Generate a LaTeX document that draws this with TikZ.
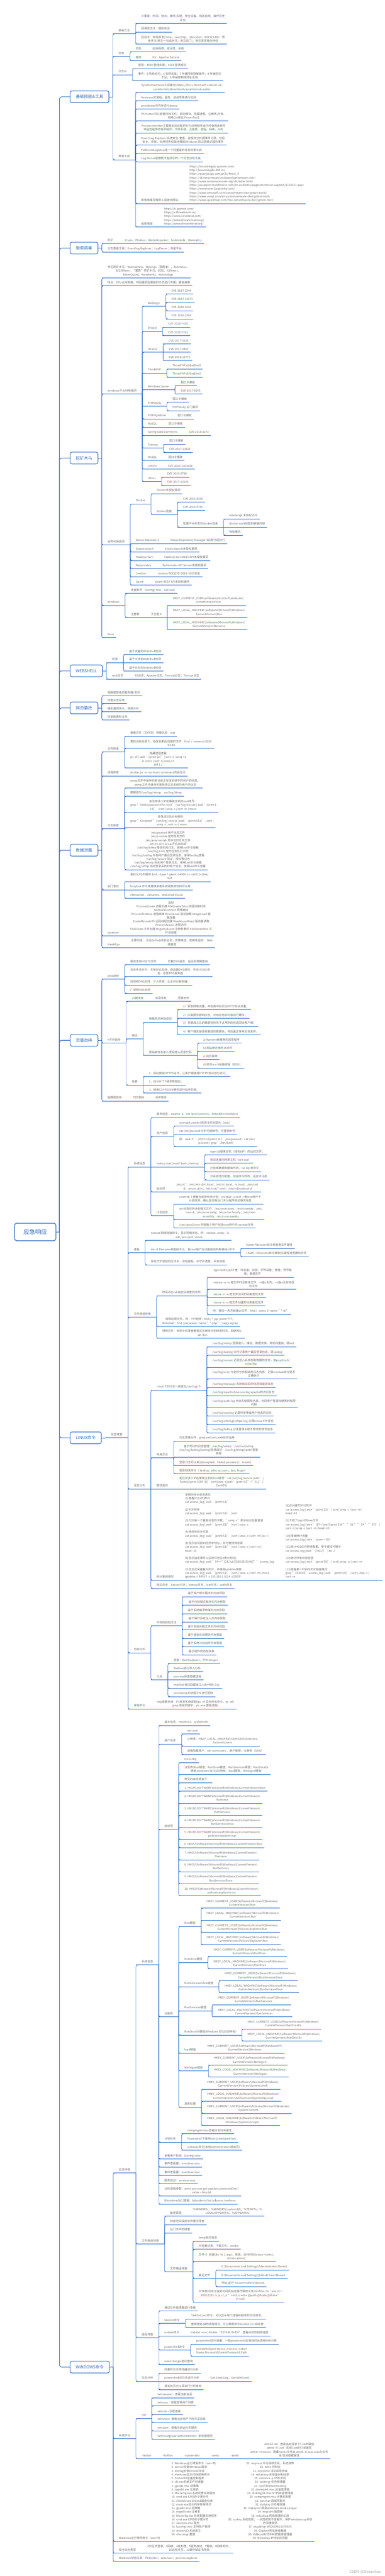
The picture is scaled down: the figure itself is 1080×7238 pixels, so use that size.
\documentclass[tikz,border=0pt]{standalone}
\usepackage{fontspec}
\setmainfont{Noto Sans CJK SC}
\usetikzlibrary{calc}
\definecolor{lc}{RGB}{46,108,198}
\definecolor{tx}{RGB}{108,108,108}
\definecolor{tc}{RGB}{42,104,192}
\definecolor{wmc}{RGB}{165,165,165}
\newcommand\bsl{\textbackslash}
\newcommand\nfs{\fontsize{8}{10.5}\selectfont}
\newcommand\RegU{HKEY\_CURRENT\_USER\bsl Software\bsl Microsoft\bsl Windows\bsl}
\newcommand\RegL{HKEY\_LOCAL\_MACHINE\bsl Software\bsl Microsoft\bsl Windows\bsl}
\newcommand\RegA{HKLM\bsl SOFTWARE\bsl Microsoft\bsl Windows\bsl CurrentVersion\bsl}
\newcommand\RegB{HKCU\bsl Software\bsl Microsoft\bsl Windows\bsl CurrentVersion\bsl}
\newcommand\acl{cat access\_log | awk '\{print \$1\}'}
\tikzset{
  nd/.style={anchor=south west, inner xsep=0pt, inner ysep=3.2pt, outer sep=0pt, font=\nfs, text=tx, align=center},
  ul/.style={draw=lc, line width=1.3pt},
  cn/.style={draw=lc, line width=1pt, rounded corners=5pt},
  tl/.style={draw=lc, line width=1.6pt, rounded corners=6pt},
  topic/.style={draw=lc, line width=1.6pt, rounded corners=5pt, fill=white, text=tc, font=\fontsize{11.5}{13}\selectfont, inner xsep=16pt, inner ysep=0pt, minimum height=33pt, anchor=west, outer sep=0pt},
  rootn/.style={draw=lc, line width=1.8pt, rounded corners=6pt, fill=white, text=tc, font=\fontsize{16.5}{18}\selectfont, minimum width=116pt, minimum height=49pt, outer sep=0pt},
}
\newcommand\mk[6]{%
  \path (#4e) ++(16pt,0) coordinate (#3t);
  \coordinate (#3y) at (0,#5);
  \node[nd,#2] (#3) at (#3t |- #3y) {#6\strut};
  \coordinate (#3s) at (#4e |- #3y);
  \coordinate (#3e) at ([xshift=#1]#3.south east);
  \draw[cn] (#4e) |- ([xshift=6pt]#3s);
  \draw[ul] (#3s) -- (#3e);
}
\newcommand\mkc[5]{%
  \path (#4e) ++(16pt,0) coordinate (#3t);
  \node[nd,#2] (#3) at (#3t) {#5\strut};
  \coordinate (#3s) at (#4e);
  \coordinate (#3e) at ([xshift=#1]#3.south east);
  \draw[ul] (#3s) -- (#3e);
}
\newcommand\nL[5][]{\mk{6pt}{#1}{#2}{#3}{#4}{#5}}
\newcommand\nB[5][]{\mk{16pt}{#1}{#2}{#3}{#4}{#5}}
\newcommand\cL[4][]{\mkc{6pt}{#1}{#2}{#3}{#4}}
\newcommand\cB[4][]{\mkc{16pt}{#1}{#2}{#3}{#4}}
\newcommand\tpc[3]{%
  \node[topic] (#1) at (197,#2) {#3};
  \coordinate (#1e) at ([xshift=11pt]#1.east);
  \draw[tl] (Rj) |- (#1.west);
  \draw[cn] (#1.east) -- (#1e);
}
\begin{document}
\begin{tikzpicture}[x=1pt,y=-1pt]
\fill[white] (0,0) rectangle (1080,7238);
\useasboundingbox (0,0) rectangle (1080,7238);
% root
\node[rootn] (R) at (99,3461.5) {应急响应};
\coordinate (Rj) at (167,3461.5);
\draw[tl] (R.east) -- (Rj);

% ===== 1 基础技能&工具
\tpc{T1}{272}{基础技能\&工具}
\nB{a1}{T1}{95}{常用方法}
\nL{a11}{a1}{66}{三要素：时间；地点；事件(系统、安全设备、相关应用、操作历史\\日志)}
\nL{a12}{a1}{90}{回溯攻击法：模拟攻击}
\nL{a13}{a1}{124}{经验法：常用目录(/tmp；/var/tmp；/dev/shm；RECYCLER)；惯\\用手法(常见一句话木马；常见后门)；常见恶意程序特征}
\nB{a2}{T1}{159}{日志}
\nB{a21}{a2}{146}{主机}
\cL{a211}{a21}{应用程序；安全性；系统}
\nB{a22}{a2}{170}{其他}
\cL{a221}{a22}{IIS；Apache;Tomcat}
\nB{a3}{T1}{210}{日志id}
\nL{a31}{a3}{193}{登录：4625 登陆失败；4624 登录成功}
\nL{a32}{a3}{227}{事件：5 拒绝访问；6 句柄无效；7 存储控制块被破坏；8 存储空间\\不足；9 存储控制块地址无效}
\nB{a4}{T1}{449}{常用工具}
\nL{a41}{a4}{260}{SysinternalsSuite工具集合(https://docs.microsoft.com/en-us/\\sysinternals/downloads/sysinternals-suite)}
\nL{a42}{a4}{283}{Autoruns对进程、服务、启动项等进行检测}
\nL{a43}{a4}{306}{procdump对内存进行dump}
\nL{a44}{a4}{340}{PCHunter可以查看内核文件、驱动模块、隐藏进程、注册表,内核、\\网络(火绒剑/PowerTool)}
\nL{a45}{a4}{374}{Process monitor主要是监控进程的行为应用程序运行时使用此软件\\来监控程序的各种操作。文件系统、注册表、进程、网络、分析}
\nL{a46}{a4}{408}{Event Log Explorer-系统安全-查看，监视和分析跟事件记录，包括\\安全，系统，应用程序和其他微软Windows 的记录被记载的事件}
\nL{a47}{a4}{431}{FullEventLogView是一个轻量级的日志检索工具}
\nL{a48}{a4}{455}{Log Parser是微软工程师写的一个日志分析工具}
\nB{a49}{a4}{572}{勒索病毒及解密工具查询网站}
\cL[align=left]{a491}{a49}{https://lesuobingdu.qianxin.com/\\http://lesuobingdu.360.cn/\\https://quanjia.qq.com/pr/ls/\#navi\_0\\https://id-ransomware.malwarehunterteam.com/\\https://www.nomoreransom.org/zh/index.html\\https://esupport.trendmicro.com/en-us/home/pages/technical-support/1114221.aspx\\https://noransom.kaspersky.com/\\https://www.emsisoft.com/ransomware-decryption-tools/\\https://www.avast.com/en-us/ransomware-decryption-tools\\https://www.quickheal.com/free-ransomware-decryption-tool/}
\nB{a4a}{a4}{638}{威胁情报}
\cL[align=left]{a4a1}{a4a}{https://ti.qianxin.com/\\https://x.threatbook.cn/\\https://www.virustotal.com/\\https://www.threatcrowd.org/\\https://www.threatminer.org/}

% ===== 2 勒索病毒
\tpc{T2}{697}{勒索病毒}
\nB{b1}{T2}{684}{例子}
\cL{b11}{b1}{Crysis；Phobos；GlobeImposter；Sodinokibi；WannaCry}
\nL{b2}{T2}{708}{日志查看工具：Event log Explorer；LogParser；观星平台}

% ===== 3 挖矿木马
\tpc{T3}{1287}{挖矿木马}
\nL{c1}{T3}{781}{常见挖矿木马：WannaMine、Mykings（隐匿者）、Bulehero、\\8220Miner、“匿影”挖矿木马、DDG、h2Miner、\\MinerGuard、Kworkerds、Watchdogs}
\nL{c2}{T3}{803}{特点：CPU占用率高；内网漏洞及爆破的方式进行传播；蠕虫病毒}
\nB{c3}{T3}{1107}{windows平台利用漏洞}
\nB{c31}{c3}{861}{Weblogic}
\nL{c311}{c31}{826}{CVE-2017-3248}
\nL{c312}{c31}{849.5}{CVE-2017-10271}
\nL{c313}{c31}{873}{CVE-2018-2628}
\nL{c314}{c31}{896}{CVE-2018-2894}
\nB{c32}{c3}{931}{Drupal}
\nL{c321}{c32}{919.5}{CVE-2018-7600}
\nL{c322}{c32}{943}{CVE-2018-7602}
\nB{c33}{c3}{990}{Struts2}
\nL{c331}{c33}{966.5}{CVE-2017-5638}
\cL{c332}{c33}{CVE-2017-9805}
\nL{c333}{c33}{1013}{CVE-2018-11776}
\nB{c34}{c3}{1048}{ThinkPHP}
\nL{c341}{c34}{1036.5}{ThinkPHPv3 GetShell}
\nL{c342}{c34}{1060}{ThinkPHPv5 GetShell}
\nB{c35}{c3}{1095}{Windows Server}
\nL{c351}{c35}{1083.6}{弱口令爆破}
\nL{c352}{c35}{1107}{CVE-2017-0143}
\nB{c36}{c3}{1142}{PHPStudy}
\nL{c361}{c36}{1130}{弱口令爆破}
\nL{c362}{c36}{1154}{PHPStudy 后门漏洞}
\nB{c37}{c3}{1177}{PHPMyAdmin}
\cL{c371}{c37}{弱口令爆破}
\nB{c38}{c3}{1200}{MySQL}
\cL{c381}{c38}{弱口令爆破}
\nB{c39}{c3}{1223.5}{Spring Data Commons}
\cL{c391}{c39}{CVE-2018-1273}
\nB{c3a}{c3}{1259}{Tomcat}
\nL{c3a1}{c3a}{1248}{弱口令爆破}
\nL{c3a2}{c3a}{1271}{CVE-2017-13615}
\nB{c3b}{c3}{1294}{MsSQL}
\cL{c3b1}{c3b}{弱口令爆破}
\nB{c3c}{c3}{1318}{JeKins}
\cL{c3c1}{c3c}{CVE-2019-1003000}
\nB{c3d}{c3}{1353}{JBoss}
\nL{c3d1}{c3d}{1341}{CVE-2010-0738}
\nL{c3d2}{c3d}{1364}{CVE-2017-12149}
\nB{c4}{T3}{1531}{组件利用漏洞}
\nB{c41}{c4}{1416}{Docker}
\nL{c411}{c41}{1387}{Docker未授权漏洞}
\nB{c412}{c41}{1446}{Dcoker逃逸}
\nL{c4121}{c412}{1411}{CVE-2016-5195}
\nL{c4122}{c412}{1434}{CVE-2019-5736}
\nB{c4123}{c412}{1481}{配置不当引发的docker逃逸}
\nL{c41231}{c4123}{1458}{emote api 未授权访问}
\cL{c41232}{c4123}{docker.sock挂载到容器内部}
\nL{c41233}{c4123}{1504}{特权模式}
\nB{c42}{c4}{1527.5}{Nexus Repository}
\cL{c421}{c42}{Nexus Repository Manager 3远程代码执行}
\nB{c43}{c4}{1551}{ElasticSearch}
\cL{c431}{c43}{ElasticSearch未授权漏洞}
\nB{c44}{c4}{1575}{Hadoop Yarn}
\cL{c441}{c44}{Hadoop Yarn REST API未授权漏洞}
\nB{c45}{c4}{1598}{Kubernetes}
\cL{c451}{c45}{Kubernetes API Server未授权漏洞}
\nB{c46}{c4}{1621}{Jenkins}
\cL{c461}{c46}{Jenkins RCE(CVE-2019-1003000)}
\nB{c47}{c4}{1644}{Spark}
\cL{c471}{c47}{Spark REST API未授权漏洞}
\nB{c5}{T3}{1701}{windows}
\nL{c51}{c5}{1667.5}{排查账号：lusrmgr.msc，net user}
\nB{c52}{c5}{1735}{注册表}
\cB{c521}{c52}{子主题 3}
\nL{c5211}{c521}{1701}{HKEY\_CURRENT\_USER\bsl software\bsl micorsoft\bsl windows\bsl\\currentversion\bsl run}
\cL{c5212}{c521}{\RegL\\CurrentVersion\bsl Run}
\nL{c5213}{c521}{1768.6}{\RegL\\CurrentVersion\bsl Runonce}
\nL{c6}{T3}{1792}{linux}

% ===== 4 WEBSHELL
\tpc{T4}{1885}{WEBSHELL}
\nB{d1}{T4}{1862}{检测}
\nL{d11}{d1}{1839}{基于流量的Webshell检测}
\cL{d12}{d1}{基于文件的Webshell检测}
\nL{d13}{d1}{1886}{基于日志的Webshell检测}
\nB{d2}{T4}{1908}{web日志}
\cL{d21}{d2}{IIS日志；Apache日志；Tomcat日志；Tomcat日志}

% ===== 5 网页篡改
\tpc{T5}{1989}{网页篡改}
\nL{e1}{T5}{1955}{隔离被感染的服务器/主机}
\nL{e2}{T5}{1977}{排查业务系统}
\nL{e3}{T5}{2000}{确定漏洞源头、溯源分析}
\nL{e4}{T5}{2023}{恢复数据和业务}

% ===== 6 数据泄露
\tpc{T6}{2389}{数据泄露}
\nB{f1}{T6}{2113}{文件排查}
\nL{f11}{f1}{2069}{查看文件（文件夹）详细信息：stat}
\nL{f12}{f1}{2103}{查找当前目录下，指定日期后创建的文件：find ./ -newerct 2021-\\03-06}
\nL{f13}{f1}{2158}{隐藏进程查看\\ps -ef | awk  '\{print \$2\}' | sort -n | uniq >1\\ls /proc | sort -n |uniq >2\\diff 1 2}
\nB{f2}{T6}{2180}{进程排查}
\cL{f21}{f2}{docker ps -a --no-trunc  command列会显示}
\nB{f3}{T6}{2329}{日志排查}
\nL{f31}{f3}{2214}{utmp文件中保存的是当前正在本系统中的用户的信息。\\wtmp文件中保存的是登录过本系统的用户的信息}
\nL{f32}{f3}{2237}{数据源为/var/log/wtmp，var/log/btmp}
\nL{f33}{f3}{2282}{定位有多少IP在爆破主机的root帐号：\\grep "Failed password for root" /var/log/secure | awk '\{print \$\\11\}' | sort | uniq -c | sort -nr | more}
\nL{f34}{f3}{2326}{登录成功的IP有哪些：\\grep "Accepted " /var/log/ secure | awk '\{print \$11\}' | sort |\\uniq -c | sort -nr | more}
\nL{f35}{f3}{2444}{/etc/passwd 用户信息文件\\/etc/crontab 定时任务文件\\/etc/anacrontab 异步定时任务文件\\/etc/rc.d/rc.local 开机启动项\\/var/log/btmp 登录失败日志，使用last命令查看\\/var/log/cron 定时任务执行日志\\/var/log/lastlog 所有用户最近登录信息，使用lastlog查看\\/var/log/secure 验证，授权等日志\\/var/log/wtmp 包含用户登录日志，使用last命令查看\\/var/log/utmp 当前登录系统的用户信息，使用last命令查看}
\nB{f4}{T6}{2500}{后门查找}
\nL{f41}{f4}{2477}{查找SUID的程序 find / -type f -perm -04000 -ls -uid 0 2>/dev/\\null}
\cL{f42}{f4}{busybox 命令被替换或者系统函数被劫持可以用}
\nL{f43}{f4}{2524}{chkrootkit 、rkhunter、Webshell Check}
\nB{f5}{T6}{2630}{sysmom}
\cL{f51}{f5}{监控\\ProcessCreate 进程创建  FileCreateTime 进程创建时间\\NetworkConnect 网络链接\\ProcessTermina 进程结束 DriverLoad 驱动加载   ImageLoad 镜\\像加载\\CreateRemoteTh 远程线程创建 RawAccessRead 驱动器读取\\ProcessAccess 进程访问\\FileCreate 文件创建  RegistryEvent 注册表事件  FileCreateStre 文\\件流创建}
\nB{f6}{T6}{2663}{HawkEye}
\cL{f61}{f6}{主要功能：  企业Github信息监测；告警推送；周期性监控；  Web\\端管理}

% ===== 7 流量劫持
\tpc{T7}{2923}{流量劫持}
\nB{g1}{T7}{2751}{DNS劫持}
\nB{g11}{g1}{2711}{篡改本地HOSTS文件}
\cL{g111}{g11}{拦截DNS请求，返回非预期查询}
\nL{g12}{g1}{2744.5}{攻击手法分为：本地DNS劫持、路由器DNS劫持、中间人DNS攻\\击、恶意DNS服务器}
\nL{g13}{g1}{2768}{局域网DNS劫持：个人终端；企业DNS服务器；}
\nL{g14}{g1}{2791}{广域网DNS劫持}
\nB{g2}{T7}{2931}{HTTP劫持}
\nB{g21}{g2}{2814}{JS脚本类}
\cB{g211}{g21}{中间件类}
\cL{g2111}{g211}{恶意软件}
\nB{g22}{g2}{2919}{情况}
\nB{g221}{g22}{2872.5}{链路层劫持造成的}
\nL{g2211}{g221}{2837}{1）获取网络流量，并在其中标识出HTTP协议流量；}
\nL{g2212}{g221}{2861}{2）拦截服务器响应包，对响应包的内容进行篡改；}
\nL{g2213}{g221}{2884}{3）将篡改之后的数据包抢先于正常响应包返回给客户端；}
\nL{g2214}{g221}{2908}{4）客户端先接受到篡改的数据包，将后面正常响应包丢弃。}
\nB{g222}{g22}{2966}{网站被攻击者入侵后植入恶意代码}
\nL{g2221}{g222}{2931}{a) Rammit病毒类的恶意程序}
\nL{g2222}{g222}{2954}{b) 网站统计类的JS文件}
\nL{g2223}{g222}{2977.5}{c) 网页篡改}
\nL{g2224}{g222}{3001}{d) 修改w e b容器进程（如IIS）}
\nB{g23}{g2}{3048.6}{处置}
\nL{g231}{g23}{3025}{1、网站使用HTTPS证书，让客户端使用HTTPS协议进行访问；}
\cL{g232}{g23}{2、拆分HTTP请求数据包；}
\nL{g233}{g23}{3071}{3、使用CSP与DOM事件进行监听防御。}
\nB{g3}{T7}{3094}{链路层劫持}
\cB{g31}{g3}{TCP劫持}
\cL{g311}{g31}{ARP劫持}

% ===== 8 LINUX命令
\tpc{T8}{4040}{LINUX命令}
\cB{h}{T8}{应急排查}
\nB{h1}{h}{3279}{系统信息}
\nL{h11}{h1}{3140}{基本信息：uname -a；cat /proc/version；lsmod(list modules)}
\nB{h12}{h1}{3193}{用户信息}
\nL{h121}{h12}{3164}{useradd userdel 的命令时间变化（stat）}
\nL{h122}{h12}{3187.5}{cat /etc/passwd 分析可疑帐号，可登录帐号}
\nL{h123}{h12}{3221}{例：awk -F: '\{if(\$3==0)print \$1\}' /etc/passwd；cat /etc/\\passwd | grep   '/bin/bash'}
\cB{h13}{h1}{history (cat /root/.bash\_history)}
\nL{h131}{h13}{3245}{wget 远程某主机（域名\&IP）的远控文件；}
\nL{h132}{h13}{3268.5}{尝试连接内网某主机（ssh scp）}
\nL{h133}{h13}{3292}{打包某敏感数据或代码，tar zip 类命令}
\nL{h134}{h13}{3315}{对系统进行配置，包括命令修改、远控木马类}
\nB{h14}{h1}{3349}{启动项}
\cL{h141}{h14}{/etc/rc*；/etc/init.d/rc.local；/etc/rc.local；rc.local；/etc/init.\\d；/etc/rc.d/rc；/etc/init/*.conf；/etc/rc\$runlevel.d}
\nB{h15}{h1}{3416}{计划任务}
\nL{h151}{h15}{3383}{crontab -l 查看当前的任务计划；crontab -u root -l 查root用户下\\计划任务，确认是否有后门木马程序启动相关信息}
\nL{h152}{h15}{3427}{etc目录任务计划相关文件：/etc/cron.deny；/etc/crontab；/etc/\\cron.d；/etc/cron.daily；/etc/cron.hourly；/etc/cron.\\monthly；/etc/cron.weekly}
\nL{h153}{h15}{3450.6}{/var/spool/cron  存放每个用户包括root用户的crontab任务}
\nB{h2}{h}{3520}{进程}
\nL{h21}{h2}{3485}{netstat 网络连接命令，显示网络状态，例：netstat -antlp；ls\\-alh /proc/pid | more；}
\cB{h22}{h2}{rm -rf filename来删除木马，若root用户无法删除则判断使用-i命令}
\nL{h221}{h22}{3508}{lsatter filename命令来查看文件属性}
\nL{h222}{h22}{3531}{chattr -i filename命令来移除i属性进而删除文件}
\nL{h23}{h2}{3554}{存在守护进程而无法杀，进程挂起，杀守护进程，杀该进程}
\nB{h3}{h}{3701}{文件痕迹排查}
\nB{h31}{h3}{3641}{时间点(find:指定目录查找文件)}
\nL{h311}{h31}{3589}{-type b/d/c/p/l/f  查：块设备；目录；字符设备；管道；符号链\\接；普通文件}
\nL{h312}{h31}{3623}{-mtime -n +n 按文件时间查找文件，-n指n天内；+n指n天前修改\\的文件}
\nL{h313}{h31}{3646}{-atime -n +n 按文件访问时间来查找文件}
\nL{h314}{h31}{3669}{-ctime -n +n 按文件创建时间来查找文件}
\nL{h315}{h31}{3693}{例：查找一天内新增sh文件：find / -ctime 0 -name "*.sh"}
\nL{h32}{h3}{3727}{特殊权限文件，例：777权限：find / *.jsp -perm 777；\\Webshell：find /var/www/ -name "*.php" | xargs wgrep}
\nL{h33}{h3}{3760}{特殊文件：去命令目录查看相关系统命令的修改时间，如使用ls -\\alt /bin}
\nB{h4}{h}{4184}{日志分析}
\nB{h41}{h4}{3906}{Linux下的日志一般放在/var/log/下}
\nL{h411}{h41}{3784}{/var/log/wtmp 登录进入，推出，数据交换、关机和重启，即last}
\nL{h412}{h41}{3808}{/var/log/lastlog 文件记录用户最后登录信息，即lastlog}
\nL{h413}{h41}{3842}{/var/log/secure 记录登入系统存取数据的文件，如pop3/ssh/\\telne/ftp}
\nL{h414}{h41}{3875}{/var/log/cron 与定时任务相关的日志信息：记录crontab命令是否\\正确执行}
\nL{h415}{h41}{3898.5}{/var/log/message 系统启动后的信息和错误日志}
\nL{h416}{h41}{3922}{/var/log/apache2/access.log apache的访问日志}
\nL{h417}{h41}{3956}{/var/log/auth.log 包含系统授权信息，包括用户登录和使用的权限\\机制}
\nL{h418}{h41}{3979}{/var/log/userlog 记录所有等级用户信息的日志}
\nL{h419}{h41}{4003}{/var/log/xferlog(vsftpd.log) 记录Linux FTP日志}
\nL{h41a}{h41}{4026}{/var/log/faillog 记录登录系统不成功的账号信息}
\nB{h42}{h4}{4096}{常用方法}
\nL{h421}{h42}{4049}{日志查看分析，grep,sed,sort,awk综合运用}
\nL{h422}{h42}{4094}{基于时间的日志管理：/var/log/wtmp\quad /var/run/utmp\\/var/log/lastlog(lastlog)登录成功\quad /var/log/btmp(lastb)登录\\失败}
\nL{h423}{h42}{4118}{登录日志可以关注Accepted、Failed password 、invalid}
\nL{h424}{h42}{4141}{登录相关命令（ lastlog , who, w, users , last, finger）}
\cB{h43}{h4}{查找语句}
\cL{h431}{h43}{定位有多少IP在爆破主机的root帐号：cat /var/log/secure |awk '/\\Failed/\{print \$(NF-3)\}'|sort|uniq -c|awk '\{print \$2"="\$1;\}'(\\CentOS)}
\nB{h44}{h4}{4440}{统计查询语句}
\cB[align=left]{h441}{h44}{常用的统计查询语句\\(1)查看IP(\$1代表IP)\\\acl\\\mbox{}\\(2)对IP排序\\\acl{} | sort\\\mbox{}\\(3)打印每一个重复出现的次数，"uniq -c"表示标记出重复值\\\acl{} | sort | uniq -c\\\mbox{}\\(4)排序并统计行数\\\acl{} | sort | uniq -c | sort -rn | wc -l\\\mbox{}\\(5)显示访问前10位的IP地址，并与查找攻击源\\\acl{} | sort | uniq -c | sort -rn |\\head -10\\\mbox{}\\(6)显示指定事件以后的日志(\$4表示时间)\\cat access\_log | awk '\$4>="[21/Jul/2020:00:03:00]"' access\_log\\\mbox{}\\(7)找出访问量最大的IP，并使用iptables禁掉\\\acl{} | sort | uniq -c | sort -rn | more\\iptables -I INPUT -s 192.168.1.0/24 -j DROP}
\cL[align=left]{h442}{h441}{(8)访问量TOP10的IP\\\acl{} | sort | uniq -c | sort -rn |\\head -10\\\mbox{}\\(9)下载了top10的exe文件\\cat access\_log | awk '(\$7\textasciitilde/.exe/)\{print \$10 " " \$1 " " \$4 " " \$7\}' |\\sort -n | uniq -c |sort -rn |head -10\\\mbox{}\\(10)简单统计流量\\cat access\_log | awk '\{sum+=10\}'\\\mbox{}\\(11)统计401访问拒绝数量，便于查找可疑IP\\cat access\_log |awk '(/401/)' | wc -l\\\mbox{}\\(12)统计所有状态信息\\cat access\_log | awk '\{print \$9\}' | sort | uniq -cc | sort -rn\\\mbox{}\\(13)查看某一时间内的IP链接情况\\grep "2020:06" access\_log | awk '\{print \$4\}' | sort | uniq -c |\\sort -rn}
\nL{h45}{h4}{4463}{相关日志：Secure日志；history日志；last日志；audit日志}
\nB{h5}{h}{4644}{内存分析}
\nB{h51}{h5}{4568}{内存的获取方法}
\nL{h511}{h51}{4486.6}{基于用户模式程序的内存获取}
\nL{h512}{h51}{4510}{.基于内核模式程序的内存获取}
\nL{h513}{h51}{4534}{基于系统崩溃转储的内存获取}
\nL{h514}{h51}{4557}{.基于操作系统注入的内存获取}
\nL{h515}{h51}{4580}{基于系统休眠文件的内存获取}
\nL{h516}{h51}{4603.5}{基于虚拟化快照的内存获取}
\nL{h517}{h51}{4627}{基于系统冷启动的内存获取}
\nL{h518}{h51}{4650}{.基于硬件的内存获取}
\nB{h52}{h5}{4720}{工具}
\nL{h521}{h52}{4674}{获取：RamCapturer；FTK Imager}
\nL{h522}{h52}{4697}{Redline进行导入分析}
\cL{h523}{h52}{psxview排查隐藏进程}
\nL{h524}{h52}{4744}{malfind 查找隐藏或注入的代码/ DLL}
\nL{h525}{h52}{4767}{procdump对进程文件进行提取}
\nB{h6}{h}{4802}{常用命令}
\cL{h61}{h6}{-top查看系统；PS枚举系统进程(ps -ef 显示所有命令；ps -ef |\\grep 进程关键字；ps -aux 查看进程)}

% ===== 9 WINDOWS命令
\tpc{T9}{6651}{WINDOWS命令}
\nB{k}{T9}{6105.5}{应急排查}
\nB{k1}{k}{5521}{系统信息}
\nL{k11}{k1}{4848}{基本信息：msinfo32；systeminfo}
\nB{k12}{k1}{4900.5}{用户信息}
\nL{k121}{k12}{4872}{net user}
\nL{k122}{k12}{4906}{注册表：HKEY\_LOCAL\_MACHINE\bsl SAM\bsl SAM\bsl Domains\bsl\\Account\bsl Users}
\nL{k123}{k12}{4929}{查看隐藏用户：net user user\$ ；用户管理；注册表（SAM）}
\nB{k13}{k1}{5140}{启动项}
\nL{k131}{k13}{4952.6}{msconfig}
\nL{k132}{k13}{4986}{注册表(Run键值；RunOnce键值；RunServices键值；RunOnceEx\\键值,windows XP/2003特有；load键值；Winlogon键值)}
\nL{k133}{k13}{5009}{常见的启动项如下：}
\nL{k134}{k13}{5033}{1. \RegA Run}
\nL{k135}{k13}{5067}{2. \RegA\\Runonce}
\nL{k136}{k13}{5101}{3. \RegA\\RunServices}
\nL{k137}{k13}{5135}{4. \RegA\\RunServicesOnce}
\nL{k138}{k13}{5168}{5. \RegA\\policies\bsl explorer\bsl run}
\nL{k139}{k13}{5191.5}{6. \RegB Run}
\nL{k13a}{k13}{5226}{7. \RegB\\Runonce}
\nL{k13b}{k13}{5259}{8. \RegB\\RunServices}
\nL{k13c}{k13}{5293}{9. \RegB\\RunServicesOnce}
\nL{k13d}{k13}{5327}{10. \RegB\\policies\bsl explorer\bsl run}
\nB{k14}{k1}{5666.5}{注册表}
\nB{k141}{k14}{5413}{Run键值}
\nL{k1411}{k141}{5361.6}{\RegU\\CurrentVersion\bsl Run}
\nL{k1412}{k141}{5395.5}{\RegL\\CurrentVersion\bsl Run}
\nL{k1413}{k141}{5429.5}{\RegU\\CurrentVersion\bsl Policies\bsl Explorer\bsl Run}
\nL{k1414}{k141}{5463.6}{\RegL\\CurrentVersion\bsl Policies\bsl Explorer\bsl Run}
\nB{k142}{k14}{5514}{RunOnce键值}
\nL{k1421}{k142}{5497.5}{\RegU\\CurrentVersion\bsl RunOnce}
\nL{k1422}{k142}{5531.5}{\RegL\\CurrentVersion\bsl RunOnce}
\nB{k143}{k14}{5582}{RunServicesOnce键值}
\nL{k1431}{k143}{5565.4}{\RegU\\CurrentVersion\bsl RunServicesOnce}
\nL{k1432}{k143}{5599}{\RegL\\CurrentVersion\bsl RunServicesOnce}
\nB{k144}{k14}{5650}{RunServices键值}
\nL{k1441}{k144}{5633}{\RegU\\CurrentVersion\bsl RunServices}
\nL{k1442}{k144}{5667}{\RegL\\CurrentVersion\bsl RunServices}
\nB{k145}{k14}{5718}{RunOnceEx键值(Windows XP/2003特有)}
\nL{k1451}{k145}{5701}{\RegU\\CurrentVersion\bsl RunOnceEx}
\nL{k1452}{k145}{5735}{\RegL\\CurrentVersion\bsl RunOnceEx}
\nB{k146}{k14}{5769}{load键值}
\cL{k1461}{k146}{HKEY\_CURRENT\_USER\bsl Software\bsl Microsoft\bsl WindowsNT\bsl\\CurrentVersion\bsl Windows}
\nB{k147}{k14}{5819}{Winlogon键值}
\nL{k1471}{k147}{5802.7}{\RegU\\CurrentVersion\bsl Winlogon}
\nL{k1472}{k147}{5836}{\RegL\\CurrentVersion\bsl Winlogon}
\nB{k148}{k14}{5921}{其他位置}
\nL{k1481}{k148}{5870}{\RegU\\CurrentVersion\bsl Policies\bsl System\bsl shell}
\nL{k1482}{k148}{5904}{\RegL\\CurrentVersion\bsl ShellServiceObjectDelayLoad}
\nL{k1483}{k148}{5938}{HKEY\_CURRENT\_USER\bsl Software\bsl Policies\bsl Microsoft\bsl Windows\bsl\\System\bsl Scripts}
\nL{k1484}{k148}{5972}{HKEY\_LOCAL\_MACHINE\bsl Software\bsl Policies\bsl Microsoft\bsl\\Windows\bsl System\bsl Scripts}
\nB{k15}{k1}{6019}{计划任务}
\nL{k151}{k15}{5995.6}{compmgmt.msc查看计划任务属性}
\cL{k152}{k15}{Powershell下使用Get-ScheduledTask}
\nL{k153}{k15}{6041.5}{schtasks命令(本地administrators组成员)}
\nL{k16}{k1}{6066}{查看用户和组：lusrmgr.msc}
\nL{k17}{k1}{6089}{事件查看器：eventvwr.msc}
\nL{k18}{k1}{6113}{事件查看器：eventvwr.msc}
\nL{k19}{k1}{6136}{服务启动：services.msc}
\nL{k1a}{k1}{6169.6}{分析进程参数：wmic process get caption,commandline /\\value >> tmp.txt}
\nL{k1b}{k1}{6193}{Bitsadmin后门查看：bitsadmin /list /allusers /verbose}
\nB{k2}{k}{6305}{文件痕迹排查}
\nB{k21}{k2}{6227}{敏感目录}
\cL{k211}{k21}{\%WINDIR\%；\%WINDIR\%\bsl system32\bsl；\%TEMP\%；\%\\LOCALAPPDATA\%；\%APPDATA\%}
\nL{k22}{k2}{6250.6}{特定时间段的文件情况排查}
\nL{k23}{k2}{6274}{后门文件的排查}
\nB{k24}{k2}{6383}{文件痕迹排查}
\nL{k241}{k24}{6297}{temp相关目录}
\nL{k242}{k24}{6320}{浏览器记录、下载文件、cookie}
\nL{k243}{k24}{6354.4}{文件=》创建(dir /tc 1.asp)、修改、访问时间(Linux->ctime,\\mtime,atime)}
\nB{k244}{k24}{6402}{最近文件}
\nL{k2441}{k244}{6378}{C:\bsl Documents and Settings\bsl Administrator\bsl Recent}
\cL{k2442}{k244}{C:\bsl Documents and Settings\bsl Default User\bsl Recent}
\nL{k2443}{k244}{6424.6}{开始,运行 \%UserProfile\%\bsl Recent}
\nL{k245}{k24}{6469}{文件查找(定位指定时间段指定盘符释放文件):forfiles /m *.exe /d +\\2020/2/12 /s /p c:\bsl{} /c "cmd /c echo @path @fdate @ftime"\\2>null}
\nB{k3}{k}{6568.5}{进程排查}
\nL{k31}{k3}{6493}{通过任务管理器进行查看}
\nB{k32}{k3}{6528}{tasklist命令}
\nL{k321}{k32}{6516}{Tasklist /svc命令，可以显示每个进程和服务的对应情况。}
\nL{k322}{k32}{6539.6}{查询特定dll的调用情况，可以使用命令tasklist /m dll名称}
\nB{k33}{k3}{6563.5}{netstat命令}
\cL{k331}{k33}{netstat -ano | findstr “ESTABLISHED” 查看目前的网络连接}
\nB{k34}{k3}{6603}{powershell命令}
\nL{k341}{k34}{6587}{powershell进行查看，一般powershell在查询时会调用WMI对象}
\nL{k342}{k34}{6620}{Get-WmiObject Win32\_Process | select\\Name,ProcessId,ParentProcessId,Path}
\nL{k35}{k3}{6644}{wmic mingle进行查询}
\nB{k4}{k}{6691}{日志分析}
\nL{k41}{k4}{6667.7}{内置的日志筛选器进行分析}
\cB{k42}{k4}{powershell对日志进行分析}
\cL{k421}{k42}{Get-EventLog；Get-WinEvent}
\nL{k43}{k4}{6714.4}{相关的日志工具进行分析查询}
\nB{m}{T9}{6852}{系统命令}
\nB{m1}{m}{6795}{net}
\nL{m11}{m1}{6737}{net session – 查看当前会话}
\nL{m12}{m1}{6760}{net user – 获取本机用户列表}
\nL{m13}{m1}{6784}{net use –远程连接}
\nL{m14}{m1}{6807}{net share -查看当前用户下的共享目录}
\nL{m15}{m1}{6830.5}{net start – 查看当前运行的服务}
\nL{m16}{m1}{6854}{net localgroup administrators -本机管理员}
\nB{m2}{m}{6909}{-findstr}
\cB{m21}{m2}{-forfiles}
\cB{m22}{m21}{-systeminfo}
\cB{m23}{m22}{-wmic}
\cB{m24}{m23}{-attrib}
\cL{m25}{m24}{attrib 1.txt - 查看当前目录下1.txt的属性\\attrib -R 1.txt - 去掉1.txt的只读属性\\attrib +H movie - 隐藏movie文件夹 attrib -H xxxx xxxx为文件\\名 取消隐藏属性}
\nB{n}{T9}{7141}{Windows运行常用命令（win+R)}
\cB[align=left]{n1}{n}{1. Windows运行常用命令（win+R)\\2. winver检查Windows版本\\3. dxdiag检查DirectX信息\\4. mem.exe显示内存使用情况\\5. Sndvol32音量控制程序\\6. sfc.exe系统文件检查器\\7. gpedit.msc 组策略\\8. regedit.exe 注册表\\9. Msconfig.exe 系统配置实用程序\\10. cmd.exe CMD命令提示符\\11. chkdsk.exe Chkdsk磁盘检查\\12. mem.exe显示内存使用情况\\13. gpedit.msc 组策略\\14. regedit.exe 注册表\\15. Msconfig.exe 系统配置实用程序\\16. cmd.exe CMD命令提示符\\17. services.msc 服务\\18. lusrmgr.msc 本地账户管理\\19. drwtsn32 系统医生\\20. cleanmgr 整理\\\mbox{}}
\cL{n2}{n1}{21. iexpress 木马捆绑工具，系统自带\\22. mmc 控制台\\23. dcpromo 活动目录安装\\24. ntbackup 系统备份和还原\\25. rononce -p 15秒关机\\26. taskmgr 任务管理器\\27. conf 启动netmeeting\\28. devmgmt.msc 设备管理器\\29. diskmgmt.msc NT的磁盘管理器\\30. compmgmt.msc 计算机管理\\31. winchat 局域网聊天\\32. dvdplay DVD播放器\\33. mplayer2 简易widnows media player\\34. mspaint 画图板\\35. nslookup 网络管理的工具\\36. syskey 系统加密，一旦加密就不能解开，保护windows xp系统\\的双重密码\\37. wupdmgr WIDNOWS UPDATE\\38. Clipbrd 剪贴板查看器\\39. Odbcad32 ODBC数据源管理器\\40. Nslookup IP地址侦测器}
\nB{p}{T9}{7174}{安全日志类型}
\cL{p1}{p}{2交互式登录；3网络；4批处理；5服务启动；7解锁；8网络明文；\\10远程交互；11缓存域证书登录}
\nL{q}{T9}{7197}{Windows常用工具：PChunter；autoruns；process explorer}

% watermark
\node[anchor=east, inner sep=0pt, text=wmc, font=\fontsize{10.5}{12}\selectfont] (wm) at (1070,7227) {CSDN @OceanSec};
\end{tikzpicture}
\end{document}
